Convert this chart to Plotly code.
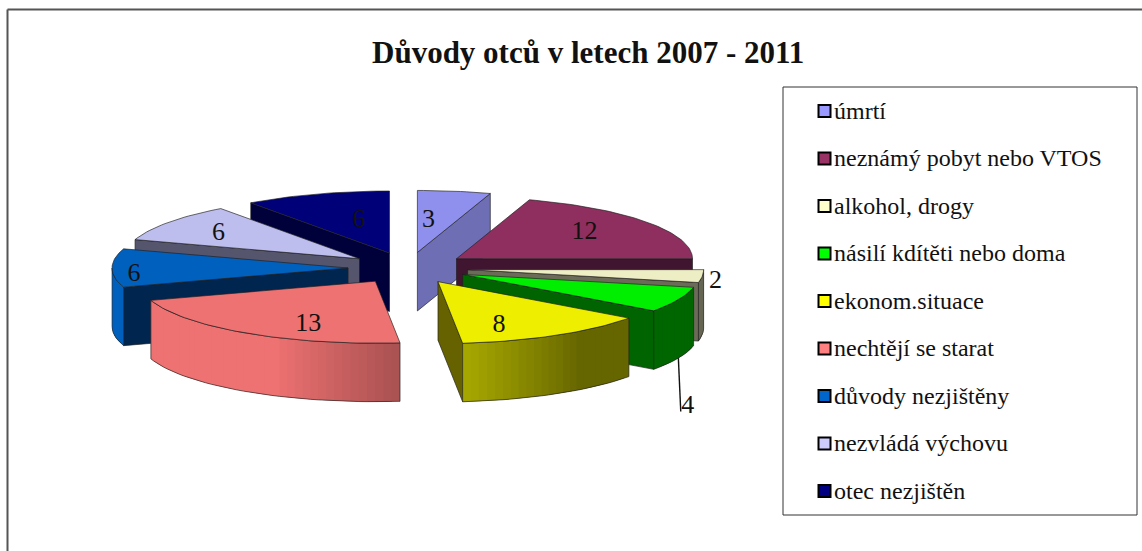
import numpy as np
import plotly.graph_objects as go

TITLE = "Důvody otců v letech 2007 - 2011"
categories = ["úmrtí", "neznámý pobyt nebo VTOS", "alkohol, drogy", "násilí kdítěti nebo doma",
              "ekonom.situace", "nechtějí se starat", "důvody nezjištěny", "nezvládá výchovu", "otec nezjištěn"]
values = [3, 12, 2, 4, 8, 13, 6, 6, 6]
legend_colors = ["#9999FF", "#993366", "#FFFFCC", "#00FF00", "#FFFF00", "#FF8080", "#0066CC", "#CCCCFF", "#000080"]
top_colors = ["#8F8FEE", "#8E2F5F", "#EEEEC4", "#00EE00", "#EEEE00", "#EE7272", "#0060BE", "#BDBDEE", "#000078"]
wall_colors = ["#6E6EB4", "#3F1530", "#6B6B58", "#006400", "#666200", "#A85050", "#00264F", "#55556E", "#00003A"]
label_offsets = [(11, -32), (128, -26), (248, 12), (225, 132), (61, 44), (-67, 43), (-214, 6), (-141, -25), (-31, -33)]

FONT = "Liberation Serif"
W, H = 1142, 551
CX, CY, RX, RY, DEPTH, EXPLODE = 408, 268, 236, 62, 58.5, 0.254
SHADE_ANG = [90, 143, 174, 205, 360]
SHADE_VAL = [0.43, 0.43, 0.71, 1.0, 1.0]
EDGE = "rgba(30,30,30,0.65)"

fig = go.Figure()


def hex_shade(c, k):
    r, g, b = [int(c[i:i + 2], 16) for i in (1, 3, 5)]
    return f"rgb({int(r * k)},{int(g * k)},{int(b * k)})"


def poly(xs, ys, fill, line, width, name):
    fig.add_trace(go.Scatter(x=list(xs), y=list(ys), mode="lines", fill="toself", fillcolor=fill,
                             line=dict(color=line, width=width), hoverinfo="skip",
                             showlegend=False, name=name))


total = sum(values)
edges = np.concatenate([[0], np.cumsum(values)]) * 360.0 / total
mids = (edges[:-1] + edges[1:]) / 2
apex_x = CX + EXPLODE * RX * np.sin(np.radians(mids))
apex_y = CY - EXPLODE * RY * np.cos(np.radians(mids))


def pt(i, ang, z=0.0):
    a = np.radians(ang)
    return apex_x[i] + RX * np.sin(a), apex_y[i] - RY * np.cos(a) + z


order = np.argsort(-np.cos(np.radians(mids)), kind="stable")
for i in order:
    a, b = edges[i], edges[i + 1]
    name = categories[i]
    # side walls that face the viewer
    for ang, normal in ((a, a - 90), (b, b + 90)):
        if np.cos(np.radians(normal)) < -1e-6:
            x1, y1 = pt(i, ang)
            x2, y2 = pt(i, ang, DEPTH)
            ax, ay = apex_x[i], apex_y[i]
            poly([ax, x1, x2, ax, ax], [ay, y1, y2, ay + DEPTH, ay], wall_colors[i], EDGE, 1, name)
    # outer rim, shaded strip by strip; each strip overlaps the next to hide seams
    lo, hi = max(a, 90), min(b, 270)
    if hi > lo:
        steps = np.linspace(lo, hi, max(2, int((hi - lo) / 2.0) + 1))
        step = steps[1] - steps[0]
        for s in steps[:-1]:
            e = min(s + 2 * step, hi)
            col = hex_shade(top_colors[i], float(np.interp(s + step / 2, SHADE_ANG, SHADE_VAL)))
            xa, ya = pt(i, s)
            xb, yb = pt(i, e)
            xc, yc = pt(i, e, DEPTH)
            xd, yd = pt(i, s, DEPTH)
            poly([xa, xb, xc, xd, xa], [ya, yb, yc, yd, ya], col, "rgba(0,0,0,0)", 0, name)
        top = [pt(i, t) for t in steps]
        bot = [pt(i, t, DEPTH) for t in steps[::-1]]
        rim = top + bot + top[:1]
        fig.add_trace(go.Scatter(x=[p[0] for p in rim], y=[p[1] for p in rim], mode="lines",
                                 line=dict(color=EDGE, width=1), hoverinfo="skip", showlegend=False, name=name))
    # top face
    arc = np.linspace(a, b, max(3, int((b - a) / 1.5) + 1))
    pts = [pt(i, t) for t in arc]
    poly([apex_x[i]] + [p[0] for p in pts] + [apex_x[i]], [apex_y[i]] + [p[1] for p in pts] + [apex_y[i]],
         top_colors[i], EDGE, 1, name)

# leader line of the small slice
j = 3
lx, ly = pt(j, mids[j], DEPTH)
fig.add_trace(go.Scatter(x=[lx, apex_x[j] + label_offsets[j][0] - 7], y=[ly, apex_y[j] + label_offsets[j][1] + 5],
                         mode="lines", line=dict(color="#111111", width=1.4), hoverinfo="skip", showlegend=False))

# value labels
fig.add_trace(go.Scatter(x=[apex_x[k] + label_offsets[k][0] for k in range(9)],
                         y=[apex_y[k] + label_offsets[k][1] for k in range(9)],
                         mode="text", text=[str(v) for v in values], textposition="middle center",
                         textfont=dict(family=FONT, size=26, color="#111111"), showlegend=False, hoverinfo="skip"))

# legend
LEG_X, LEG_TX, LEG_Y0, LEG_STEP = 824.5, 834, 112.5, 47.5
leg_y = [LEG_Y0 + k * LEG_STEP for k in range(len(categories))]
fig.add_trace(go.Scatter(x=[LEG_X] * len(categories), y=[y - 1.5 for y in leg_y], mode="markers",
                         marker=dict(symbol="square", size=12, color=legend_colors,
                                     line=dict(color="#000000", width=2)),
                         hoverinfo="skip", showlegend=False, name="legend"))
fig.add_trace(go.Scatter(x=[LEG_TX] * len(categories), y=leg_y, mode="text", text=categories,
                         textposition="middle right",
                         textfont=dict(family=FONT, size=24, color="#111111"),
                         hoverinfo="skip", showlegend=False, name="legend text"))

fig.update_layout(
    width=W, height=H, margin=dict(l=0, r=0, t=0, b=0),
    paper_bgcolor="white", plot_bgcolor="white", showlegend=False,
    xaxis=dict(range=[0, W], visible=False, fixedrange=True),
    yaxis=dict(range=[H, 0], visible=False, fixedrange=True),
    shapes=[
        dict(type="rect", x0=783, y0=87, x1=1137, y1=515, line=dict(color="#333333", width=1)),
        dict(type="line", x0=7.5, y0=9.5, x1=W, y1=9.5, line=dict(color="#555555", width=2)),
        dict(type="line", x0=7.5, y0=9.5, x1=7.5, y1=H, line=dict(color="#555555", width=2)),
    ],
    annotations=[dict(text=f"<b>{TITLE}</b>", x=588, y=52, xref="x", yref="y", showarrow=False,
                      xanchor="center", yanchor="middle",
                      font=dict(family=FONT, size=31, color="#111111"))],
)
fig.write_html("out.html", config={"displayModeBar": False}, post_script="document.body.style.margin='0';")
